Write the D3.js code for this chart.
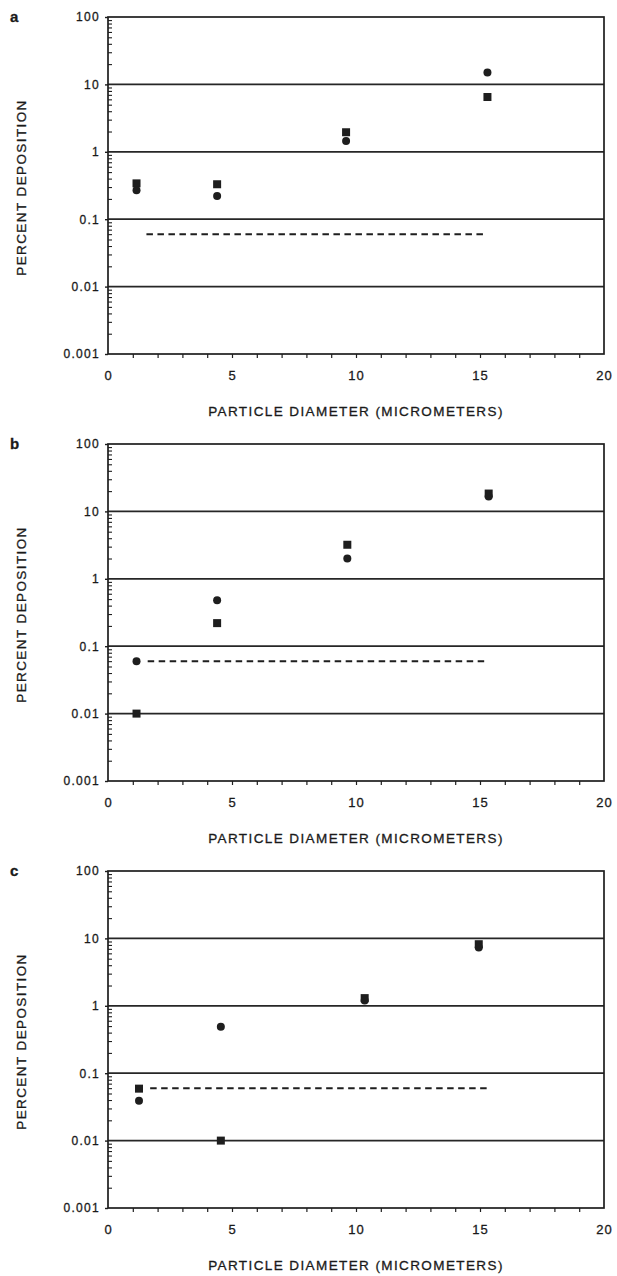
<!DOCTYPE html>
<html>
<head>
<meta charset="utf-8">
<script src="https://cdn.jsdelivr.net/npm/d3@7"></script>
<style>
  body { margin: 0; background: #fff; }
  svg { display: block; }
  .tick text, .axTitle {
    font-family: "Liberation Sans", Arial, sans-serif;
    fill: #1a1a1a;
    stroke: #1a1a1a;
    stroke-width: 0.3px;
  }
</style>
</head>
<body>
<script>
// ----- data -----
const panelLetters = ["a", "b", "c"];

// panel a
const diamA = [1.15, 4.4, 9.6, 15.3];
const circleA = [0.27, 0.22, 1.45, 15];
const squareA = [0.34, 0.33, 1.95, 6.5];

// panel b
const diamB = [1.15, 4.4, 9.65, 15.35];
const circleB = [0.06, 0.48, 2.0, 16.7];
const squareB = [0.01, 0.22, 3.2, 18.4];

// panel c
const diamC = [1.25, 4.55, 10.35, 14.95];
const circleC = [0.039, 0.49, 1.2, 7.3];
const squareC = [0.059, 0.01, 1.3, 8.2];

// dashed reference level
const dashLevel = 0.06;
const dashStart = [1.55, 1.6, 1.7];
const dashEnd = [15.2, 15.2, 15.3];

const yTickValues = [0.001, 0.01, 0.1, 1, 10, 100];
const yTickLabels = ["0.001", "0.01", "0.1", "1", "10", "100"];
const gridValues = [0.01, 0.1, 1, 10];
const xTickValues = [0, 5, 10, 15, 20];
const xTitle = "PARTICLE DIAMETER (MICROMETERS)";
const yTitle = "PERCENT DEPOSITION";

// ----- layout -----
const W = 617, H = 1276;
const left = 108, right = 604, plotH = 337;
const panelTop = [17, 444, 871];
const ink = "#1e1e1e";

const svg = d3.select("body").append("svg")
    .attr("width", W)
    .attr("height", H);

const x = d3.scaleLinear().domain([0, 20]).range([left, right]);

// minor log ticks 2..9 in every decade
let minorY = [];
[0.001, 0.01, 0.1, 1, 10].forEach(function(dec){
    for (let k = 2; k <= 9; k++) minorY.push(dec * k);
});

function drawPanel(i, diam, circles, squares){

    const top = panelTop[i];
    const y = d3.scaleLog().domain([0.001, 100]).range([top + plotH, top]);
    const g = svg.append("g");

    // horizontal decade lines
    g.selectAll(".grid")
        .data(gridValues)
        .enter()
        .append("line")
        .attr("x1", left).attr("x2", right)
        .attr("y1", d => y(d)).attr("y2", d => y(d))
        .attr("stroke", "#262626")
        .attr("stroke-width", 1.7);

    // frame
    g.append("rect")
        .attr("x", left).attr("y", top)
        .attr("width", right - left).attr("height", plotH)
        .attr("fill", "none")
        .attr("stroke", ink)
        .attr("stroke-width", 1.7);

    // left axis with labels
    const yAx = g.append("g")
        .attr("transform", "translate(" + left + ",0)")
        .call(d3.axisLeft(y).tickValues(yTickValues)
            .tickFormat((d, j) => yTickLabels[j])
            .tickSize(3).tickPadding(5));
    yAx.select(".domain").remove();
    yAx.selectAll("line").attr("stroke", ink).attr("stroke-width", 1.4);
    yAx.selectAll("text")
        .style("font-size", "12px")
        .style("letter-spacing", "1.3px");

    // minor ticks inside
    const yMin = g.append("g")
        .attr("transform", "translate(" + left + ",0)")
        .call(d3.axisRight(y).tickValues(minorY).tickFormat("").tickSize(4));
    yMin.select(".domain").remove();
    yMin.selectAll("line").attr("stroke", ink).attr("stroke-width", 1.1);

    // bottom axis
    const xAx = g.append("g")
        .attr("transform", "translate(0," + (top + plotH) + ")")
        .call(d3.axisBottom(x).tickValues(xTickValues).tickSize(0).tickPadding(17));
    xAx.select(".domain").remove();
    xAx.selectAll("text")
        .style("font-size", "13px")
        .style("letter-spacing", "1px");

    const xMin = g.append("g")
        .attr("transform", "translate(0," + (top + plotH) + ")")
        .call(d3.axisBottom(x).tickValues(d3.range(1, 20)).tickFormat("").tickSize(4));
    xMin.select(".domain").remove();
    xMin.selectAll("line").attr("stroke", ink).attr("stroke-width", 1.2);

    // axis titles
    g.append("text")
        .attr("class", "axTitle")
        .attr("x", (left + right) / 2)
        .attr("y", top + plotH + 62)
        .attr("text-anchor", "middle")
        .style("font-size", "13.5px")
        .style("letter-spacing", "1.4px")
        .text(xTitle);

    g.append("text")
        .attr("class", "axTitle")
        .attr("transform", "translate(26," + (top + plotH / 2 + 2) + ") rotate(-90)")
        .attr("text-anchor", "middle")
        .style("font-size", "13.5px")
        .style("letter-spacing", "1.4px")
        .text(yTitle);

    // panel letter
    g.append("text")
        .attr("class", "axTitle")
        .attr("x", 10)
        .attr("y", top + 5)
        .style("font-size", "15px")
        .style("font-weight", "bold")
        .text(panelLetters[i]);

    // dashed reference line
    g.append("line")
        .attr("x1", x(dashStart[i])).attr("x2", x(dashEnd[i]))
        .attr("y1", y(dashLevel)).attr("y2", y(dashLevel))
        .attr("stroke", ink)
        .attr("stroke-width", 2)
        .attr("stroke-dasharray", "6.5,4.5");

    // squares
    g.selectAll(".sq")
        .data(diam.map((d, j) => [d, squares[j]]))
        .enter()
        .append("rect")
        .attr("x", d => x(d[0]) - 4)
        .attr("y", d => y(d[1]) - 4)
        .attr("width", 8).attr("height", 8)
        .attr("fill", ink);

    // circles
    g.selectAll(".dot")
        .data(diam.map((d, j) => [d, circles[j]]))
        .enter()
        .append("circle")
        .attr("cx", d => x(d[0]))
        .attr("cy", d => y(d[1]))
        .attr("r", 4)
        .attr("fill", ink);
}

drawPanel(0, diamA, circleA, squareA);
drawPanel(1, diamB, circleB, squareB);
drawPanel(2, diamC, circleC, squareC);
</script>
</body>
</html>
